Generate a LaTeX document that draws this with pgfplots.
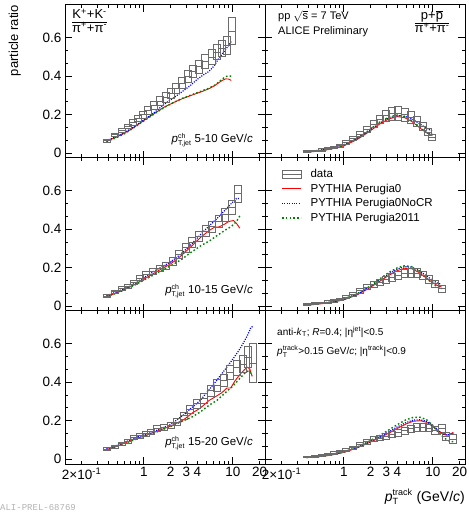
\documentclass[border=0pt]{standalone}
\usepackage{fontspec}
\setmainfont{Liberation Sans}
\newfontfamily\monofont{Liberation Mono}
\usepackage{pgfplots}
\pgfplotsset{compat=1.18}
\definecolor{boxgray}{gray}{0.42}
\definecolor{mcred}{rgb}{1,0,0}
\definecolor{mcblue}{rgb}{0,0,1}
\definecolor{mcgreen}{rgb}{0,0.5,0}
\newcommand{\yfac}{192.45}
\pgfdeclareplotmark{dbox}{%
  \pgfsetstrokecolor{boxgray}\pgfsetlinewidth{0.8pt}%
  \pgfpathrectangle{\pgfpoint{-3.5pt}{-\errpt pt}}{\pgfpoint{7pt}{2*\errpt pt}}%
  \pgfpathmoveto{\pgfpoint{-3.5pt}{0pt}}%
  \pgfpathlineto{\pgfpoint{3.5pt}{0pt}}%
  \pgfusepathqstroke}
\newcommand{\scr}{\fontsize{7}{7}\selectfont}
\pgfplotsset{
    scale only axis, width=200pt, height=153pt,
    xmin=0.13, xmax=23, ymin=-0.025, ymax=0.77,
    ytick={0,0.2,0.4,0.6}, minor y tick num=2,
    xtick={1,10},
    minor xtick={0.2,0.3,0.4,0.5,0.6,0.7,0.8,0.9,2,3,4,5,6,7,8,9,20},
    extra x ticks={0.2,2,3,4,20},
    extra x tick style={major tick length=0pt},
    tick align=inside, major tick length=7pt, minor tick length=3.5pt,
    axis line style={line width=1pt},
    tick style={black, line width=0.8pt},
    yticklabel style={font=\fontsize{13.5}{14}\selectfont},
    xticklabel style={font=\fontsize{13.5}{14}\selectfont},
    clip=false,
}
\pgfplotsset{
  pzero/.style={color=mcred, line width=0.9pt, no marks,
    legend image code/.code={\draw[mcred, line width=0.9pt] (0pt,0pt)--(19pt,0pt);}},
  pnocr/.style={color=mcblue, line width=1.2pt, dash pattern=on 1.1pt off 1.3pt, no marks,
    legend image code/.code={\draw[mcblue, line width=1.2pt, dash pattern=on 1.1pt off 1.3pt] (0pt,0pt)--(19pt,0pt);}},
  ptwo/.style={color=mcgreen, line width=1.4pt, dash pattern=on 1.6pt off 2.2pt, no marks,
    legend image code/.code={\draw[mcgreen, line width=1.4pt, dash pattern=on 1.6pt off 2.2pt] (0pt,0pt)--(19pt,0pt);}},
}
\begin{document}
\begin{tikzpicture}
\path[use as bounding box] (0,0) rectangle (468pt,513pt);

% ---------------- Row 1 left: K/pi, 5-10
\begin{semilogxaxis}[yticklabels={0,0.2,0.4,0.6}, xticklabels={}, extra x tick labels={}, at={(65pt,355pt)}, anchor=south west]
\addplot[scatter, only marks, mark=dbox, point meta=y, visualization depends on={\thisrow{e}*\yfac \as \errpt}, scatter/@pre marker code/.code={}, scatter/@post marker code/.code={}] table {
x y e
0.38 0.066 0.008
0.47 0.095 0.010
0.56 0.120 0.011
0.66 0.140 0.012
0.75 0.160 0.014
0.85 0.182 0.016
0.97 0.200 0.018
1.11 0.222 0.020
1.3 0.248 0.022
1.5 0.270 0.023
1.75 0.290 0.024
2.0 0.312 0.026
2.3 0.338 0.027
2.7 0.365 0.029
3.1 0.400 0.030
3.6 0.425 0.032
4.2 0.450 0.034
4.9 0.475 0.036
5.8 0.500 0.038
6.6 0.525 0.040
7.5 0.545 0.042
8.5 0.560 0.045
9.7 0.635 0.070
};
\addplot[pzero] coordinates {(0.38,0.062)(0.5,0.085)(0.6,0.103)(0.75,0.13)(1.0,0.17)(1.3,0.205)(1.7,0.24)(2.2,0.265)(2.7,0.283)(3.3,0.298)(3.9,0.31)(4.6,0.322)(5.4,0.335)(6.2,0.35)(6.9,0.365)(7.6,0.378)(8.3,0.386)(9.0,0.385)(9.6,0.378)};
\addplot[pnocr] coordinates {(0.38,0.065)(0.5,0.088)(0.6,0.106)(0.75,0.133)(1.0,0.173)(1.3,0.21)(1.7,0.255)(2.2,0.29)(2.7,0.32)(3.3,0.35)(3.9,0.38)(4.6,0.405)(5.4,0.425)(6.2,0.455)(6.9,0.49)(7.6,0.515)(8.3,0.54)(9.0,0.56)(9.6,0.58)};
\addplot[ptwo] coordinates {(0.38,0.06)(0.5,0.082)(0.6,0.1)(0.75,0.128)(1.0,0.168)(1.3,0.203)(1.7,0.238)(2.2,0.265)(2.7,0.285)(3.3,0.3)(3.9,0.313)(4.6,0.325)(5.4,0.338)(6.2,0.352)(6.9,0.368)(7.6,0.385)(8.3,0.398)(9.0,0.402)(9.6,0.4)};
\node[anchor=north west, inner sep=0pt, font=\fontsize{13}{14}\selectfont] at (rel axis cs:0.035,0.975) {\begin{tabular}{@{}c@{}}K\textsuperscript{+}+K\textsuperscript{-}\\[-1pt]\hline π\textsuperscript{+}+π\textsuperscript{-}\end{tabular}};
\node[anchor=base east, inner sep=0pt, font=\fontsize{11.5}{13}\selectfont] at (rel axis cs:0.94,0.1) {\textit{p}$^{\mbox{\scr ch}}_{\mbox{\scr T,jet}}$ 5-10 GeV/\textit{c}};
\end{semilogxaxis}

% ---------------- Row 1 right: p/pi, 5-10
\begin{semilogxaxis}[yticklabels={}, xticklabels={}, extra x tick labels={}, at={(265pt,355pt)}, anchor=south west]
\addplot[scatter, only marks, mark=dbox, point meta=y, visualization depends on={\thisrow{e}*\yfac \as \errpt}, scatter/@pre marker code/.code={}, scatter/@post marker code/.code={}] table {
x y e
0.38 0.008 0.005
0.47 0.012 0.005
0.56 0.017 0.006
0.66 0.024 0.006
0.77 0.030 0.007
0.9 0.040 0.008
1.05 0.055 0.009
1.25 0.075 0.011
1.5 0.100 0.013
1.8 0.125 0.015
2.15 0.150 0.018
2.55 0.175 0.022
3.0 0.195 0.028
3.5 0.205 0.034
4.1 0.208 0.036
4.8 0.200 0.034
5.6 0.185 0.030
6.6 0.165 0.026
7.7 0.140 0.022
8.8 0.110 0.019
9.8 0.082 0.017
};
\addplot[pzero] coordinates {(0.38,0.005)(0.5,0.01)(0.7,0.02)(1.0,0.038)(1.4,0.07)(1.9,0.11)(2.5,0.15)(3.2,0.178)(4.0,0.19)(4.8,0.185)(5.8,0.165)(7.0,0.135)(8.3,0.108)(9.5,0.095)(10,0.095)};
\addplot[pnocr] coordinates {(0.38,0.01)(0.5,0.014)(0.7,0.024)(1.0,0.043)(1.4,0.075)(1.9,0.115)(2.5,0.155)(3.2,0.183)(4.0,0.195)(4.8,0.192)(5.8,0.178)(7.0,0.155)(8.3,0.132)(9.5,0.118)(10,0.12)};
\addplot[ptwo] coordinates {(0.38,0.006)(0.5,0.011)(0.7,0.022)(1.0,0.042)(1.4,0.077)(1.9,0.118)(2.5,0.16)(3.2,0.188)(4.0,0.198)(4.8,0.19)(5.8,0.17)(7.0,0.138)(8.3,0.11)(9.5,0.098)(10,0.097)};
\node[anchor=north west, inner sep=0pt, align=left, font=\fontsize{11}{15}\selectfont] at (rel axis cs:0.065,0.965) {pp $\sqrt{\mbox{s}}$ = 7 TeV\\ALICE Preliminary};
\node[anchor=north, inner sep=0pt, font=\fontsize{13}{14}\selectfont] at (rel axis cs:0.835,0.97) {\begin{tabular}{@{}c@{}}p+$\overline{\mbox{p}}$\\[-1pt]\hline π\textsuperscript{+}+π\textsuperscript{-}\end{tabular}};
\end{semilogxaxis}

% ---------------- Row 2 left: K/pi, 10-15
\begin{semilogxaxis}[yticklabels={0,0.2,0.4,0.6}, xticklabels={}, extra x tick labels={}, at={(65pt,202pt)}, anchor=south west]
\addplot[scatter, only marks, mark=dbox, point meta=y, visualization depends on={\thisrow{e}*\yfac \as \errpt}, scatter/@pre marker code/.code={}, scatter/@post marker code/.code={}] table {
x y e
0.38 0.052 0.007
0.47 0.075 0.008
0.56 0.092 0.009
0.66 0.105 0.010
0.77 0.125 0.011
0.9 0.145 0.013
1.05 0.165 0.014
1.25 0.180 0.015
1.5 0.198 0.016
1.78 0.210 0.017
2.1 0.232 0.019
2.5 0.268 0.021
2.95 0.305 0.023
3.5 0.333 0.025
4.2 0.362 0.026
4.95 0.390 0.028
5.8 0.413 0.030
6.9 0.440 0.032
8.2 0.475 0.034
9.7 0.515 0.036
11.5 0.585 0.045
};
\addplot[pzero] coordinates {(0.38,0.05)(0.5,0.07)(0.7,0.1)(1.0,0.14)(1.4,0.18)(2.0,0.22)(2.6,0.26)(3.4,0.31)(4.4,0.36)(5.5,0.395)(6.2,0.41)(7.0,0.412)(8.0,0.425)(9.0,0.44)(10.2,0.445)(11,0.43)(12,0.405)};
\addplot[pnocr] coordinates {(0.38,0.055)(0.5,0.075)(0.7,0.105)(1.0,0.148)(1.4,0.19)(2.0,0.23)(2.6,0.27)(3.4,0.32)(4.4,0.375)(5.5,0.42)(6.8,0.46)(8.2,0.5)(9.7,0.535)(11,0.56)(12,0.56)};
\addplot[ptwo] coordinates {(0.38,0.05)(0.5,0.068)(0.7,0.097)(1.0,0.135)(1.4,0.172)(2.0,0.21)(2.6,0.24)(3.4,0.28)(4.4,0.315)(5.5,0.34)(6.8,0.37)(8.2,0.395)(9.7,0.415)(11,0.44)(12,0.47)};
\node[anchor=base east, inner sep=0pt, font=\fontsize{11.5}{13}\selectfont] at (rel axis cs:0.94,0.115) {\textit{p}$^{\mbox{\scr ch}}_{\mbox{\scr T,jet}}$ 10-15 GeV/\textit{c}};
\end{semilogxaxis}

% ---------------- Row 2 right: p/pi, 10-15 (with legend)
\begin{semilogxaxis}[yticklabels={}, xticklabels={}, extra x tick labels={}, at={(265pt,202pt)}, anchor=south west,
  legend style={at={(0.08,0.94)}, anchor=north west, draw=none, fill=none,
    font=\fontsize{11.5}{13}\selectfont, row sep=0.8pt, inner sep=0pt,
    nodes={inner sep=2pt}, /tikz/every odd column/.append style={column sep=7pt}},
  legend cell align=left]
\addplot[scatter, only marks, mark=dbox, point meta=y, visualization depends on={\thisrow{e}*\yfac \as \errpt}, scatter/@pre marker code/.code={}, scatter/@post marker code/.code={},
  legend image code/.code={\draw[boxgray, line width=0.8pt] (0pt,-4pt) rectangle (19pt,4pt); \draw[boxgray, line width=0.8pt] (0pt,0pt)--(19pt,0pt);}] table {
x y e
0.38 0.010 0.005
0.47 0.013 0.005
0.56 0.017 0.005
0.66 0.022 0.006
0.77 0.028 0.006
0.9 0.036 0.007
1.05 0.048 0.008
1.25 0.062 0.009
1.5 0.080 0.011
1.8 0.100 0.013
2.15 0.115 0.015
2.55 0.125 0.016
3.0 0.138 0.018
3.5 0.150 0.020
4.1 0.160 0.022
4.8 0.170 0.023
5.6 0.172 0.024
6.6 0.172 0.024
7.7 0.160 0.022
9.0 0.140 0.020
10.5 0.118 0.018
12.5 0.090 0.018
};
\addplot[pzero] coordinates {(0.38,0.005)(0.5,0.01)(0.7,0.018)(1.0,0.033)(1.4,0.058)(1.9,0.092)(2.5,0.128)(3.2,0.16)(4.0,0.185)(4.8,0.197)(5.8,0.195)(7.0,0.175)(8.5,0.145)(10,0.122)(11.5,0.105)(12.5,0.1)};
\addplot[pnocr] coordinates {(0.38,0.009)(0.5,0.013)(0.7,0.021)(1.0,0.036)(1.4,0.061)(1.9,0.096)(2.5,0.134)(3.2,0.167)(4.0,0.193)(4.8,0.205)(5.8,0.203)(7.0,0.185)(8.5,0.157)(10,0.133)(11.5,0.118)(12.5,0.115)};
\addplot[ptwo] coordinates {(0.38,0.007)(0.5,0.012)(0.7,0.021)(1.0,0.037)(1.4,0.064)(1.9,0.1)(2.5,0.14)(3.2,0.175)(4.0,0.2)(4.8,0.21)(5.8,0.205)(7.0,0.18)(8.5,0.145)(10,0.115)(11.5,0.098)(12.5,0.09)};
\legend{data, PYTHIA Perugia0, PYTHIA Perugia0NoCR, PYTHIA Perugia2011}
\end{semilogxaxis}

% ---------------- Row 3 left: K/pi, 15-20
\begin{semilogxaxis}[yticklabels={0,0.2,0.4,0.6}, xticklabels={1,10}, extra x tick labels={2×10\textsuperscript{-1},2,3,4,20}, at={(65pt,49pt)}, anchor=south west]
\addplot[scatter, only marks, mark=dbox, point meta=y, visualization depends on={\thisrow{e}*\yfac \as \errpt}, scatter/@pre marker code/.code={}, scatter/@post marker code/.code={}] table {
x y e
0.38 0.052 0.007
0.47 0.064 0.008
0.56 0.080 0.009
0.66 0.092 0.010
0.77 0.112 0.011
0.9 0.122 0.012
1.05 0.132 0.013
1.2 0.143 0.014
1.4 0.158 0.015
1.67 0.165 0.016
2.0 0.175 0.017
2.37 0.192 0.018
2.8 0.225 0.020
3.33 0.260 0.022
3.95 0.288 0.024
4.7 0.315 0.026
5.6 0.355 0.028
6.6 0.383 0.030
7.9 0.410 0.033
9.3 0.450 0.036
11.0 0.475 0.040
13.0 0.495 0.045
14.9 0.530 0.055
16.9 0.500 0.100
};
\addplot[pzero] coordinates {(0.38,0.05)(0.5,0.068)(0.7,0.095)(1.0,0.12)(1.4,0.145)(2.0,0.172)(2.8,0.205)(3.5,0.24)(4.3,0.265)(5.4,0.305)(6.4,0.325)(7.5,0.345)(8.6,0.37)(9.5,0.37)(10.5,0.405)(12,0.44)(13.5,0.465)(14.5,0.478)(15.5,0.47)(16.5,0.43)};
\addplot[pnocr] coordinates {(0.38,0.055)(0.5,0.072)(0.7,0.1)(1.0,0.127)(1.4,0.15)(2.0,0.18)(2.8,0.23)(3.5,0.27)(4.3,0.305)(5.4,0.36)(6.6,0.41)(8.0,0.46)(10,0.52)(11.5,0.56)(13,0.6)(14.5,0.64)(16,0.685)(16.8,0.69)};
\addplot[ptwo] coordinates {(0.38,0.048)(0.5,0.066)(0.7,0.093)(1.0,0.118)(1.4,0.142)(2.0,0.17)(2.8,0.2)(3.5,0.22)(4.3,0.245)(5.4,0.28)(6.6,0.305)(8.0,0.34)(10,0.38)(12,0.42)(13.5,0.445)(15,0.46)(16.5,0.435)};
\node[anchor=base east, inner sep=0pt, font=\fontsize{11.5}{13}\selectfont] at (rel axis cs:0.94,0.12) {\textit{p}$^{\mbox{\scr ch}}_{\mbox{\scr T,jet}}$ 15-20 GeV/\textit{c}};
\end{semilogxaxis}

% ---------------- Row 3 right: p/pi, 15-20
\begin{semilogxaxis}[yticklabels={}, xticklabels={1,10}, extra x tick labels={2×10\textsuperscript{-1},2,3,4,20}, at={(265pt,49pt)}, anchor=south west]
\addplot[scatter, only marks, mark=dbox, point meta=y, visualization depends on={\thisrow{e}*\yfac \as \errpt}, scatter/@pre marker code/.code={}, scatter/@post marker code/.code={}] table {
x y e
0.38 0.012 0.005
0.47 0.016 0.005
0.56 0.020 0.005
0.66 0.026 0.006
0.77 0.032 0.006
0.9 0.040 0.007
1.05 0.048 0.008
1.25 0.060 0.009
1.5 0.075 0.010
1.8 0.090 0.012
2.15 0.103 0.013
2.55 0.110 0.014
3.0 0.118 0.016
3.5 0.128 0.017
4.1 0.138 0.018
4.8 0.148 0.019
5.6 0.158 0.020
6.6 0.165 0.021
7.7 0.167 0.021
9.0 0.162 0.020
10.5 0.150 0.020
12.5 0.158 0.022
14.2 0.118 0.020
16.9 0.105 0.022
};
\addplot[pzero] coordinates {(0.38,0.008)(0.5,0.012)(0.7,0.02)(1.0,0.035)(1.4,0.058)(1.9,0.085)(2.5,0.11)(3.2,0.135)(4.0,0.16)(5.0,0.183)(6.0,0.197)(7.2,0.2)(8.5,0.192)(10,0.17)(11.5,0.145)(13,0.13)(14.5,0.125)(16,0.132)(17,0.14)};
\addplot[pnocr] coordinates {(0.38,0.012)(0.5,0.016)(0.7,0.024)(1.0,0.038)(1.4,0.06)(1.9,0.088)(2.5,0.115)(3.2,0.142)(4.0,0.168)(5.0,0.19)(6.0,0.203)(7.2,0.205)(8.5,0.197)(10,0.175)(11.5,0.15)(13,0.132)(14.5,0.125)(16,0.13)(17,0.135)};
\addplot[ptwo] coordinates {(0.38,0.009)(0.5,0.013)(0.7,0.022)(1.0,0.038)(1.4,0.062)(1.9,0.092)(2.5,0.122)(3.2,0.152)(4.0,0.18)(5.0,0.205)(6.0,0.217)(7.2,0.218)(8.5,0.205)(10,0.175)(11.5,0.14)(13,0.115)(14.5,0.1)(16,0.09)(17,0.092)};
\node[anchor=north west, inner sep=0pt, align=left, font=\fontsize{10}{19}\selectfont] at (rel axis cs:0.06,0.9) {anti-\textit{k}$_{\mbox{\scr T}}$; \textit{R}=0.4; |η$^{\mbox{\scr jet}}$|<0.5\\\textit{p}$^{\mbox{\scr track}}_{\mbox{\scr T}}$>0.15 GeV/\textit{c}; |η$^{\mbox{\scr track}}$|<0.9};
\end{semilogxaxis}

% ---------------- outer labels
\node[rotate=90, anchor=base east, inner sep=0pt, font=\fontsize{13}{14}\selectfont] at (18pt,508pt) {particle ratio};
\node[anchor=base east, inner sep=0pt, font=\fontsize{14}{15}\selectfont] at (465pt,12pt) {\textit{p}$^{\mbox{\fontsize{9}{9}\selectfont track}}_{\mbox{\fontsize{9}{9}\selectfont T}}$ (GeV/\textit{c})};
\node[anchor=base west, inner sep=0pt, text=black!30, font=\monofont\fontsize{9}{9}\selectfont] at (0pt,2pt) {ALI-PREL-68769};
\end{tikzpicture}
\end{document}
